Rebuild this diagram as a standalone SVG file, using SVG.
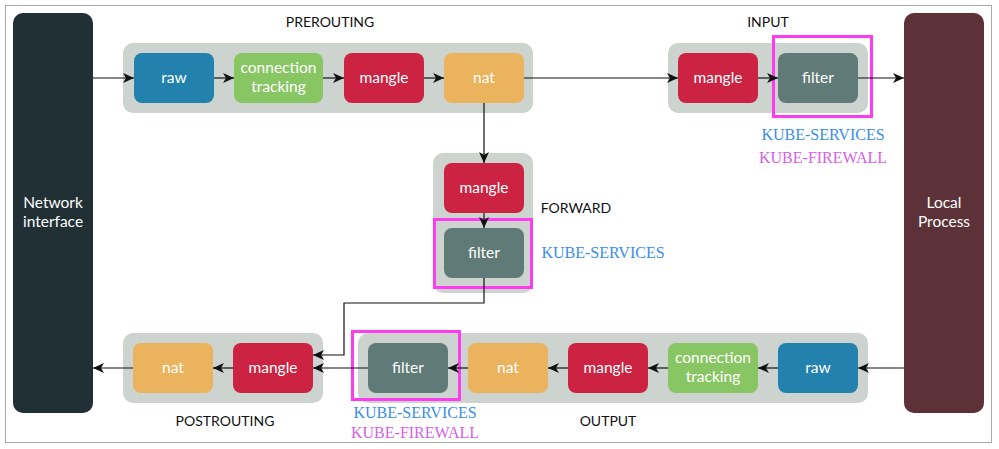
<svg xmlns="http://www.w3.org/2000/svg" width="999" height="449" viewBox="0 0 999 449">
<style>
.grp{fill:#cdd3cf}
.box{stroke:none}
.raw{fill:#2381ad}
.ct{fill:#88c664}
.mangle{fill:#cb2341}
.nat{fill:#ecb35e}
.filter{fill:#5f7a77}
.t{font-family:Lato,"Noto Sans",sans-serif;font-size:15.5px;fill:#fff;text-anchor:middle}
.lbl{font-family:Lato,"Noto Sans",sans-serif;font-size:14px;fill:#111;text-anchor:middle}
.ks{font-family:"Liberation Serif",serif;font-size:16px;fill:#3a8ee6;text-anchor:middle}
.kf{font-family:"Liberation Serif",serif;font-size:16px;fill:#d75fe8;text-anchor:middle}
.hl{fill:none;stroke:#ff3bef;stroke-width:3}
.c{fill:none;stroke:#111;stroke-width:1.2}
</style>
<defs>
<marker id="ah" markerWidth="12" markerHeight="10" refX="11" refY="5" orient="auto" markerUnits="userSpaceOnUse">
<path d="M0,0 L11,5 L0,10 L3,5 z" fill="#111"/>
</marker>
</defs>
<rect x="5.5" y="5.5" width="986" height="437" fill="#fff" stroke="#aaa" stroke-width="1"/>

<g id="network-interface">
<rect x="13" y="13" width="80" height="400" rx="10" fill="#203035"/>
<text class="t" x="53" y="208">Network</text>
<text class="t" x="53" y="227">interface</text>
</g>
<g id="local-process">
<rect x="904" y="13" width="80" height="400" rx="10" fill="#5c3238"/>
<text class="t" x="944" y="208">Local</text>
<text class="t" x="944" y="227">Process</text>
</g>

<g id="prerouting">
<rect class="grp" x="123" y="43" width="410" height="70" rx="10"/>
<text class="lbl" x="330" y="27">PREROUTING</text>
</g>
<g id="pre-raw"><rect class="box raw" x="134" y="53" width="80" height="50" rx="8"/><text class="t" x="174" y="83">raw</text></g>
<g id="pre-ct"><rect class="box ct" x="234" y="53" width="89" height="50" rx="8"/><text class="t" x="278.5" y="73">connection</text><text class="t" x="278.5" y="92">tracking</text></g>
<g id="pre-mangle"><rect class="box mangle" x="344" y="53" width="80" height="50" rx="8"/><text class="t" x="384" y="83">mangle</text></g>
<g id="pre-nat"><rect class="box nat" x="444" y="53" width="80" height="50" rx="8"/><text class="t" x="484" y="83">nat</text></g>

<g id="input">
<rect class="grp" x="668" y="43" width="200" height="70" rx="10"/>
<text class="lbl" x="768" y="27">INPUT</text>
</g>
<g id="in-mangle"><rect class="box mangle" x="678" y="53" width="80" height="50" rx="8"/><text class="t" x="718" y="83">mangle</text></g>
<g id="in-filter"><rect class="box filter" x="778" y="53" width="80" height="50" rx="8"/><text class="t" x="818" y="83">filter</text>
<rect class="hl" x="773.5" y="36.5" width="98" height="80"/>
<text class="ks" x="823" y="140">KUBE-SERVICES</text>
<text class="kf" x="823" y="163">KUBE-FIREWALL</text>
</g>

<g id="forward">
<rect class="grp" x="433" y="153" width="100" height="140" rx="10"/>
<text class="lbl" x="576" y="213">FORWARD</text>
</g>
<g id="fwd-mangle"><rect class="box mangle" x="444" y="163" width="80" height="50" rx="8"/><text class="t" x="484" y="193">mangle</text></g>
<g id="fwd-filter"><rect class="box filter" x="444" y="228" width="80" height="50" rx="8"/><text class="t" x="484" y="258">filter</text>
<rect class="hl" x="434.5" y="219.5" width="97" height="68"/>
<text class="ks" x="603" y="258">KUBE-SERVICES</text>
</g>

<g id="postrouting">
<rect class="grp" x="123" y="333" width="200" height="70" rx="10"/>
<text class="lbl" x="225" y="426">POSTROUTING</text>
</g>
<g id="post-nat"><rect class="box nat" x="133" y="343" width="80" height="50" rx="8"/><text class="t" x="173" y="373">nat</text></g>
<g id="post-mangle"><rect class="box mangle" x="233" y="343" width="80" height="50" rx="8"/><text class="t" x="273" y="373">mangle</text></g>

<g id="output">
<rect class="grp" x="358" y="333" width="510" height="70" rx="10"/>
<text class="lbl" x="608" y="426">OUTPUT</text>
</g>
<g id="out-filter"><rect class="box filter" x="368" y="343" width="80" height="50" rx="8"/><text class="t" x="408" y="373">filter</text>
<rect class="hl" x="352.5" y="331.5" width="107" height="68"/>
<text class="ks" x="415" y="418">KUBE-SERVICES</text>
<text class="kf" x="415" y="438">KUBE-FIREWALL</text>
</g>
<g id="out-nat"><rect class="box nat" x="468" y="343" width="80" height="50" rx="8"/><text class="t" x="508" y="373">nat</text></g>
<g id="out-mangle"><rect class="box mangle" x="568" y="343" width="80" height="50" rx="8"/><text class="t" x="608" y="373">mangle</text></g>
<g id="out-ct"><rect class="box ct" x="668" y="343" width="90" height="50" rx="8"/><text class="t" x="713" y="363">connection</text><text class="t" x="713" y="382">tracking</text></g>
<g id="out-raw"><rect class="box raw" x="778" y="343" width="80" height="50" rx="8"/><text class="t" x="818" y="373">raw</text></g>

<g id="connectors">
<path class="c" d="M93,78 H134" marker-end="url(#ah)"/>
<path class="c" d="M214,78 H234" marker-end="url(#ah)"/>
<path class="c" d="M323,78 H344" marker-end="url(#ah)"/>
<path class="c" d="M424,78 H444" marker-end="url(#ah)"/>
<path class="c" d="M524,78 H678" marker-end="url(#ah)"/>
<path class="c" d="M758,78 H778" marker-end="url(#ah)"/>
<path class="c" d="M858,78 H904" marker-end="url(#ah)"/>
<path class="c" d="M484,103 V163" marker-end="url(#ah)"/>
<path class="c" d="M484,213 V228" marker-end="url(#ah)"/>
<path class="c" d="M484,278 V303 H344 V355 H313" marker-end="url(#ah)"/>
<path class="c" d="M904,368 H858" marker-end="url(#ah)"/>
<path class="c" d="M778,368 H758" marker-end="url(#ah)"/>
<path class="c" d="M668,368 H648" marker-end="url(#ah)"/>
<path class="c" d="M568,368 H548" marker-end="url(#ah)"/>
<path class="c" d="M468,368 H448" marker-end="url(#ah)"/>
<path class="c" d="M368,368 H313" marker-end="url(#ah)"/>
<path class="c" d="M233,368 H213" marker-end="url(#ah)"/>
<path class="c" d="M133,368 H93" marker-end="url(#ah)"/>
</g>
</svg>
